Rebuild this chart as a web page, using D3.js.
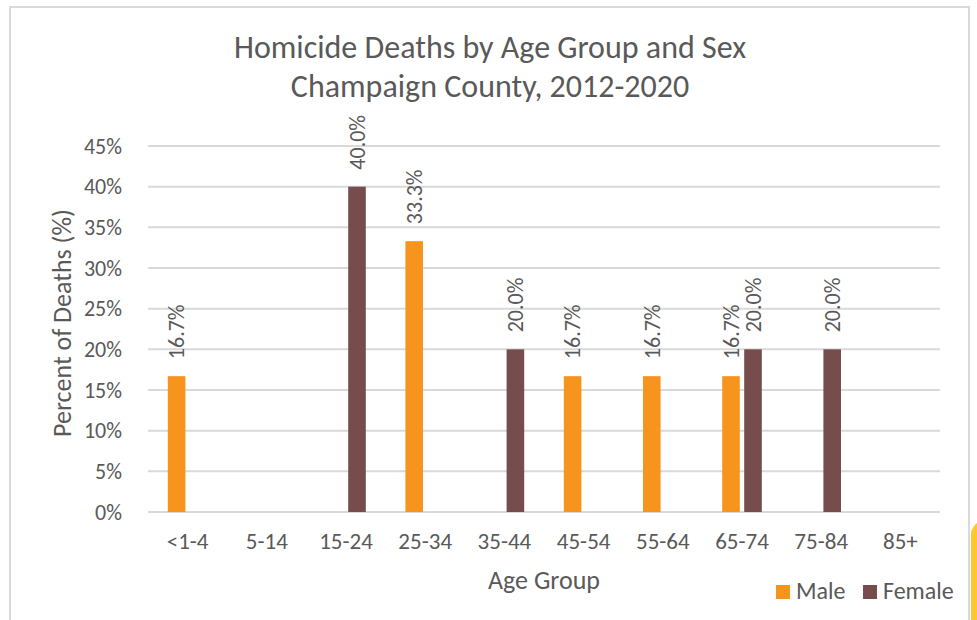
<!DOCTYPE html>
<html>
<head>
<meta charset="utf-8">
<script src="https://cdn.jsdelivr.net/npm/d3@7"></script>
<style>
  body { margin: 0; background: #fff; }
  text { font-family: Carlito, Lato, "Open Sans", sans-serif; fill: #595959; }
</style>
</head>
<body>
<div id="chart"></div>
<script>
var ageGroups = ['<1-4', '5-14', '15-24', '25-34', '35-44', '45-54', '55-64', '65-74', '75-84', '85+'];
var series = ['Male', 'Female'];
var maleValues = [16.7, null, null, 33.3, null, 16.7, 16.7, 16.7, null, null];
var femaleValues = [null, null, 40.0, null, 20.0, null, null, 20.0, 20.0, null];
var yTicks = [0, 5, 10, 15, 20, 25, 30, 35, 40, 45];
var colors = {Male: '#F7941D', Female: '#774C4C'};

var W = 977, H = 620;
var margin = {top: 146, right: 37, bottom: 108, left: 148},
    width = W - margin.left - margin.right,
    height = H - margin.top - margin.bottom;

var svg = d3.select("#chart")
    .append("svg")
      .attr("width", W)
      .attr("height", H);

// chart frame
svg.append("rect")
    .attr("x", 10).attr("y", 7)
    .attr("width", 959).attr("height", 640)
    .attr("fill", "none")
    .attr("stroke", "#D9D9D9")
    .attr("stroke-width", 2);

// bit of yellow at the right edge of the screenshot
svg.append("path")
    .attr("d", "M971,620 L971,532 Q974,525 977,523 L977,620 Z")
    .attr("fill", "#FFC82E");

var g = svg.append("g")
    .attr("transform", "translate(" + margin.left + "," + margin.top + ")");

var x0 = d3.scaleBand().domain(ageGroups).range([0, width]).paddingInner(0.5).paddingOuter(0.25);
var x1 = d3.scaleBand().domain(series).range([0, x0.bandwidth()]).paddingInner(0.2);
var y = d3.scaleLinear().domain([0, 45]).range([height, 0]);

// gridlines
g.append("g")
    .selectAll("line")
    .data(yTicks)
    .enter()
    .append("line")
    .attr("x1", 0).attr("x2", width)
    .attr("y1", function(d) { return y(d); })
    .attr("y2", function(d) { return y(d); })
    .attr("stroke", "#D9D9D9")
    .attr("stroke-width", 2);

// y axis labels
var yAxis = g.append("g")
    .attr("transform", "translate(-23,0)")
    .call(d3.axisLeft(y).tickValues(yTicks).tickSize(0).tickFormat(function(d) { return d + "%"; }));
yAxis.select(".domain").remove();
yAxis.selectAll("text")
    .attr("font-size", 22)
    .attr("font-family", null)
    .attr("fill", "#595959");

// x axis labels
var xAxis = g.append("g")
    .attr("transform", "translate(0," + height + ")")
    .call(d3.axisBottom(x0.copy().paddingInner(0).paddingOuter(0)).tickSize(0).tickPadding(21));
xAxis.select(".domain").remove();
xAxis.selectAll("text")
    .attr("font-size", 23)
    .attr("font-family", null)
    .attr("fill", "#595959");

var rows = [];
ageGroups.forEach(function(a, i) {
    rows.push({group: a, key: 'Male', value: maleValues[i]});
    rows.push({group: a, key: 'Female', value: femaleValues[i]});
});
rows = rows.filter(function(d) { return d.value != null; });

g.append("g")
    .selectAll("rect")
    .data(rows)
    .enter()
    .append("rect")
    .attr("x", function(d) { return x0(d.group) + x1(d.key); })
    .attr("y", function(d) { return y(d.value); })
    .attr("width", x1.bandwidth())
    .attr("height", function(d) { return height - y(d.value); })
    .attr("fill", function(d) { return colors[d.key]; });

// data labels, rotated
g.append("g")
    .selectAll("text")
    .data(rows)
    .enter()
    .append("text")
    .attr("transform", function(d) {
        var cx = x0(d.group) + x1(d.key) + x1.bandwidth() / 2;
        return "translate(" + cx + "," + (y(d.value) - 17) + ") rotate(-90)";
    })
    .attr("dy", "0.35em")
    .attr("font-size", 22)
    .text(function(d) { return d.value.toFixed(1) + "%"; });

// titles
svg.append("text")
    .attr("x", 490).attr("y", 58)
    .attr("text-anchor", "middle")
    .attr("font-size", 32)
    .text("Homicide Deaths by Age Group and Sex");
svg.append("text")
    .attr("x", 490).attr("y", 97)
    .attr("text-anchor", "middle")
    .attr("font-size", 32)
    .text("Champaign County, 2012-2020");

svg.append("text")
    .attr("text-anchor", "middle")
    .attr("transform", "translate(71," + (margin.top + height / 2 - 6) + ") rotate(-90)")
    .attr("font-size", 26)
    .text("Percent of Deaths (%)");

svg.append("text")
    .attr("x", margin.left + width / 2).attr("y", 589)
    .attr("text-anchor", "middle")
    .attr("font-size", 26)
    .text("Age Group");

// legend
var legend = svg.append("g")
    .selectAll("g")
    .data(series)
    .enter()
    .append("g")
    .attr("transform", function(d, i) { return "translate(" + [776, 863][i] + ",585)"; });
legend.append("rect")
    .attr("width", 14).attr("height", 14)
    .attr("fill", function(d) { return colors[d]; });
legend.append("text")
    .attr("x", 20).attr("y", 14)
    .attr("font-size", 24)
    .text(function(d) { return d; });
</script>
</body>
</html>
